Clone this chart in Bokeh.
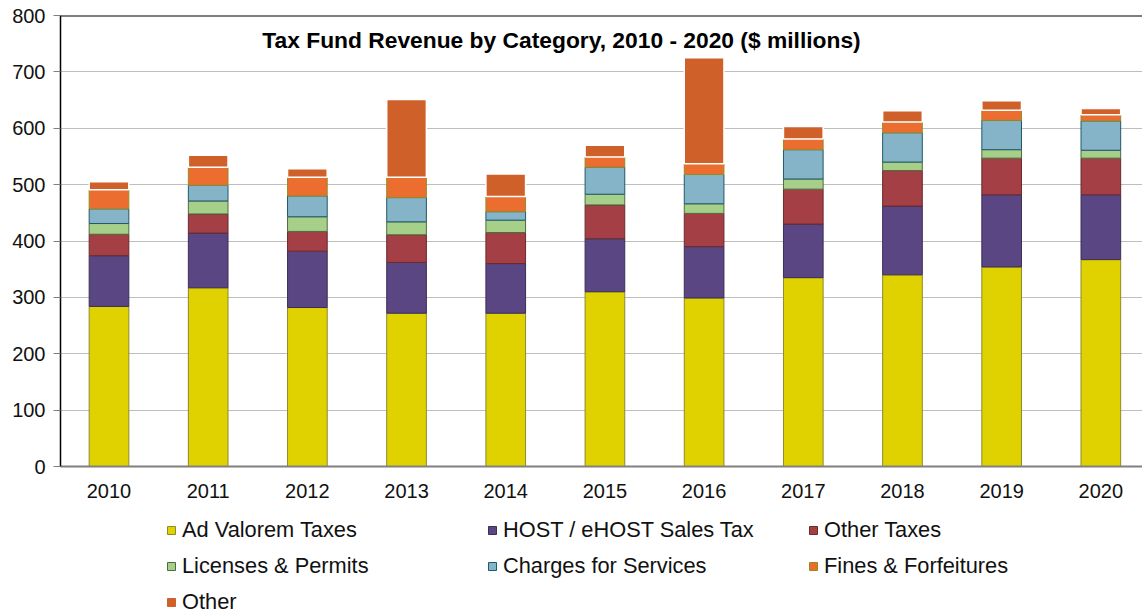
from bokeh.plotting import figure
from bokeh.layouts import column
from bokeh.models import (ColumnDataSource, Range1d, FixedTicker, Legend, LegendItem,
                          Span, Label)
from bokeh.embed import file_html
from bokeh.resources import INLINE

# Tax fund revenue, $ millions
years = ["2010", "2011", "2012", "2013", "2014", "2015", "2016", "2017", "2018", "2019", "2020"]
ad_valorem = [284, 317, 282, 272, 272, 310, 299, 335, 340, 354, 367]
host_sales = [90, 97, 100, 90, 88, 94, 91, 95, 122, 128, 115]
other_taxes = [38, 34, 35, 49, 55, 60, 59, 62, 63, 65, 65]
licenses = [19, 23, 26, 23, 22, 19, 17, 18, 15, 15, 14]
charges = [26, 28, 37, 43, 15, 48, 52, 52, 52, 52, 52]
fines = [34, 32, 33, 36, 27, 18, 19, 19, 19, 18, 11]
other = [14, 21, 15, 138, 40, 21, 188, 22, 20, 17, 11]

series_names = ["Ad Valorem Taxes", "HOST / eHOST Sales Tax", "Other Taxes",
                "Licenses & Permits", "Charges for Services", "Fines & Forfeitures", "Other"]
y_ticks = [0, 100, 200, 300, 400, 500, 600, 700, 800]

FONT = "Liberation Sans"
fills = ["#E0D200", "#5A4682", "#A33F45", "#A6D08A", "#85B4C8", "#EC6D30", "#D0602A"]
edges = ["#8C8A2E", "#3B2F58", "#6B2A2E", "#4E6B3E", "#1F5A6A", "#9A8A20", "#FFFFFF"]
edge_widths = [1, 1, 1, 1, 1, 1, 1.5]

keys = ["ad_valorem", "host_sales", "other_taxes", "licenses", "charges", "fines", "other"]
source = ColumnDataSource(dict(
    x=list(range(len(years))),
    ad_valorem=ad_valorem, host_sales=host_sales, other_taxes=other_taxes,
    licenses=licenses, charges=charges, fines=fines, other=other,
))

# ---- main chart ----
p = figure(width=1142, height=500,
           x_range=Range1d(-0.489, 10.42), y_range=Range1d(0, 800),
           output_backend="svg", toolbar_location=None,
           min_border_left=60, min_border_right=0, min_border_top=15, min_border_bottom=34)
p.outline_line_color = None
p.background_fill_color = "white"
p.border_fill_color = "white"

p.vbar_stack(keys, x="x", width=0.4, source=source,
             fill_color=fills, line_color=edges, line_width=edge_widths)

p.xaxis.ticker = FixedTicker(ticks=list(range(len(years))))
p.xaxis.major_label_overrides = {i: y for i, y in enumerate(years)}
p.xaxis.major_tick_line_color = None
p.xaxis.minor_tick_line_color = None
p.xaxis.axis_line_color = "#808080"
p.xaxis.axis_line_width = 2
p.xaxis.major_label_standoff = 11

p.yaxis.ticker = FixedTicker(ticks=y_ticks)
p.yaxis.axis_line_color = "black"
p.yaxis.axis_line_width = 1.5
p.yaxis.major_tick_line_color = "#808080"
p.yaxis.major_tick_out = 7
p.yaxis.major_tick_in = 0
p.yaxis.minor_tick_line_color = None
p.yaxis.major_label_standoff = 8

for ax in (p.xaxis, p.yaxis):
    ax.major_label_text_font = FONT
    ax.major_label_text_font_size = "20px"
    ax.major_label_text_color = "#111111"

p.xgrid.grid_line_color = None
p.ygrid.grid_line_color = "#BEBEBE"
p.ygrid.grid_line_width = 1

# top frame edge
p.add_layout(Span(location=800, dimension="width", line_color="black", line_width=2))

# title inside the plot area
p.add_layout(Label(x=501, y=427, x_units="screen", y_units="screen",
                   text="Tax Fund Revenue by Category, 2010 - 2020 ($ millions)",
                   text_font=FONT, text_font_size="22.8px", text_font_style="bold",
                   text_align="center", text_baseline="middle", text_color="black"))

# ---- legend strip below the chart (frame aligned with the chart's frame) ----
lg = figure(width=1142, height=115, x_range=Range1d(0, 1), y_range=Range1d(0, 1),
            output_backend="svg", toolbar_location=None,
            x_axis_location=None, y_axis_location=None,
            min_border_left=60, min_border_right=0, min_border_top=0, min_border_bottom=0)
lg.outline_line_color = None
lg.grid.grid_line_color = None
lg.border_fill_color = "white"

# swatch-only renderers: one NaN row so the legend has styles to draw, nothing in the frame
swatch_src = ColumnDataSource(dict(x=[float("nan")], top=[float("nan")]))
swatch_edges = edges[:-1] + [fills[-1]]
swatches = [lg.vbar(x="x", top="top", width=0.1, source=swatch_src,
                    fill_color=f, line_color=e, line_width=1)
            for f, e in zip(fills, swatch_edges)]

legend = Legend(
    items=[LegendItem(label=n, renderers=[r]) for n, r in zip(series_names, swatches)],
    location=(106, 0), orientation="horizontal", ncols=3,
    glyph_width=10, glyph_height=10, label_standoff=6, label_width=295, label_height=26,
    spacing=10, padding=0, margin=0,
    border_line_color=None, background_fill_alpha=0,
    label_text_font=FONT, label_text_font_size="21.8px", label_text_color="#111111",
)
lg.add_layout(legend, "center")

layout = column(p, lg, spacing=0)
open("out.html", "w").write(file_html(layout, INLINE))
